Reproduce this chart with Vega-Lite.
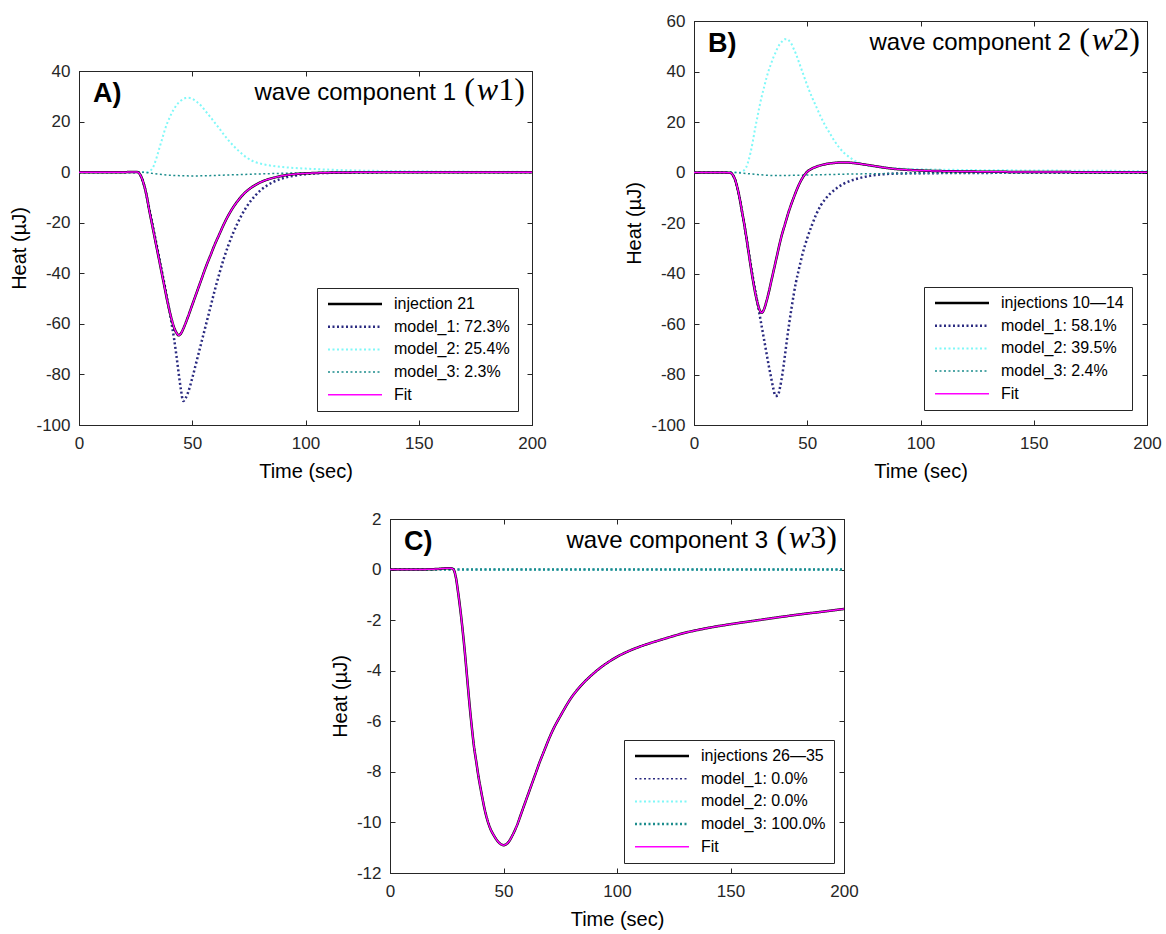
{
  "$schema": "https://vega.github.io/schema/vega-lite/v6.json",
  "padding": {"left": 9, "top": 11, "right": 5, "bottom": 2},
  "background": "white",
  "config": {
    "font": "Liberation Sans",
    "view": {"stroke": "#262626", "strokeWidth": 1},
    "axis": {
      "labelFont": "Liberation Sans", "labelFontSize": 17, "labelColor": "#262626", "labelFlush": false,
      "titleFont": "Liberation Sans", "titleFontSize": 20, "titleFontWeight": "normal", "titleColor": "#000000",
      "domainColor": "#262626", "tickColor": "#262626", "tickSize": -5,
      "grid": false, "labelExpr": "'' + datum.value"
    },
    "axisX": {"titlePadding": 10, "labelPadding": 15},
    "axisY": {"titlePadding": 6, "labelPadding": 14},
    "legend": {
      "orient": "bottom-right", "offset": 14, "fillColor": "white", "strokeColor": "#262626",
      "padding": 8, "labelFont": "Liberation Sans", "labelFontSize": 16, "labelColor": "#000000",
      "symbolType": "M-1,0L9.8,0", "symbolSize": 100, "rowPadding": 6.7, "labelOffset": 53, "labelLimit": 400
    }
  },
  "datasets": {
    "A": [
      {"t":0,"heat":0,"series":"model_1: 72.3%"},{"t":20,"heat":0,"series":"model_1: 72.3%"},{"t":26,"heat":0,"series":"model_1: 72.3%"},{"t":27,"heat":-1,"series":"model_1: 72.3%"},{"t":28,"heat":-3,"series":"model_1: 72.3%"},{"t":29,"heat":-6,"series":"model_1: 72.3%"},{"t":30,"heat":-10,"series":"model_1: 72.3%"},{"t":31,"heat":-14.5,"series":"model_1: 72.3%"},{"t":32,"heat":-18.5,"series":"model_1: 72.3%"},{"t":33,"heat":-23,"series":"model_1: 72.3%"},{"t":34,"heat":-27.5,"series":"model_1: 72.3%"},{"t":35,"heat":-32,"series":"model_1: 72.3%"},{"t":36,"heat":-36.5,"series":"model_1: 72.3%"},{"t":37,"heat":-41,"series":"model_1: 72.3%"},{"t":38,"heat":-45.5,"series":"model_1: 72.3%"},{"t":39,"heat":-50.5,"series":"model_1: 72.3%"},{"t":40,"heat":-55,"series":"model_1: 72.3%"},{"t":41,"heat":-60.5,"series":"model_1: 72.3%"},{"t":42,"heat":-66,"series":"model_1: 72.3%"},{"t":43,"heat":-72.5,"series":"model_1: 72.3%"},{"t":44,"heat":-79.5,"series":"model_1: 72.3%"},{"t":45,"heat":-86,"series":"model_1: 72.3%"},{"t":46,"heat":-90.5,"series":"model_1: 72.3%"},{"t":47,"heat":-89.5,"series":"model_1: 72.3%"},{"t":48,"heat":-87.5,"series":"model_1: 72.3%"},{"t":50,"heat":-81.5,"series":"model_1: 72.3%"},{"t":52,"heat":-74.5,"series":"model_1: 72.3%"},{"t":54,"heat":-67.5,"series":"model_1: 72.3%"},{"t":56,"heat":-60.5,"series":"model_1: 72.3%"},{"t":58,"heat":-53.5,"series":"model_1: 72.3%"},{"t":60,"heat":-46.5,"series":"model_1: 72.3%"},{"t":62,"heat":-40,"series":"model_1: 72.3%"},{"t":64,"heat":-34,"series":"model_1: 72.3%"},{"t":66,"heat":-28.8,"series":"model_1: 72.3%"},{"t":68,"heat":-24.2,"series":"model_1: 72.3%"},{"t":70,"heat":-20.2,"series":"model_1: 72.3%"},{"t":72,"heat":-16.7,"series":"model_1: 72.3%"},{"t":74,"heat":-13.7,"series":"model_1: 72.3%"},{"t":76,"heat":-11.2,"series":"model_1: 72.3%"},{"t":78,"heat":-9.1,"series":"model_1: 72.3%"},{"t":80,"heat":-7.3,"series":"model_1: 72.3%"},{"t":83,"heat":-5.3,"series":"model_1: 72.3%"},{"t":86,"heat":-3.8,"series":"model_1: 72.3%"},{"t":90,"heat":-2.4,"series":"model_1: 72.3%"},{"t":95,"heat":-1.4,"series":"model_1: 72.3%"},{"t":100,"heat":-0.8,"series":"model_1: 72.3%"},{"t":110,"heat":-0.3,"series":"model_1: 72.3%"},{"t":130,"heat":-0.1,"series":"model_1: 72.3%"},{"t":160,"heat":0,"series":"model_1: 72.3%"},{"t":200,"heat":0,"series":"model_1: 72.3%"},
      {"t":0,"heat":0,"series":"model_2: 25.4%"},{"t":30,"heat":0,"series":"model_2: 25.4%"},{"t":31,"heat":0.3,"series":"model_2: 25.4%"},{"t":32,"heat":1,"series":"model_2: 25.4%"},{"t":33,"heat":2.5,"series":"model_2: 25.4%"},{"t":34,"heat":5,"series":"model_2: 25.4%"},{"t":35,"heat":8,"series":"model_2: 25.4%"},{"t":36,"heat":11,"series":"model_2: 25.4%"},{"t":37,"heat":14,"series":"model_2: 25.4%"},{"t":38,"heat":17,"series":"model_2: 25.4%"},{"t":39,"heat":19.5,"series":"model_2: 25.4%"},{"t":40,"heat":21.5,"series":"model_2: 25.4%"},{"t":41,"heat":23.5,"series":"model_2: 25.4%"},{"t":42,"heat":25,"series":"model_2: 25.4%"},{"t":43,"heat":26.5,"series":"model_2: 25.4%"},{"t":44,"heat":27.5,"series":"model_2: 25.4%"},{"t":45,"heat":28.3,"series":"model_2: 25.4%"},{"t":46,"heat":28.9,"series":"model_2: 25.4%"},{"t":47,"heat":29.3,"series":"model_2: 25.4%"},{"t":48,"heat":29.4,"series":"model_2: 25.4%"},{"t":49,"heat":29.3,"series":"model_2: 25.4%"},{"t":50,"heat":29,"series":"model_2: 25.4%"},{"t":51,"heat":28.5,"series":"model_2: 25.4%"},{"t":52,"heat":27.8,"series":"model_2: 25.4%"},{"t":54,"heat":26.2,"series":"model_2: 25.4%"},{"t":56,"heat":24,"series":"model_2: 25.4%"},{"t":58,"heat":21.8,"series":"model_2: 25.4%"},{"t":60,"heat":19.5,"series":"model_2: 25.4%"},{"t":62,"heat":17.2,"series":"model_2: 25.4%"},{"t":64,"heat":14.8,"series":"model_2: 25.4%"},{"t":66,"heat":12.6,"series":"model_2: 25.4%"},{"t":68,"heat":10.6,"series":"model_2: 25.4%"},{"t":70,"heat":8.8,"series":"model_2: 25.4%"},{"t":72,"heat":7.2,"series":"model_2: 25.4%"},{"t":74,"heat":5.8,"series":"model_2: 25.4%"},{"t":76,"heat":4.7,"series":"model_2: 25.4%"},{"t":78,"heat":3.9,"series":"model_2: 25.4%"},{"t":82,"heat":3,"series":"model_2: 25.4%"},{"t":86,"heat":2.4,"series":"model_2: 25.4%"},{"t":90,"heat":2,"series":"model_2: 25.4%"},{"t":100,"heat":1.4,"series":"model_2: 25.4%"},{"t":110,"heat":1,"series":"model_2: 25.4%"},{"t":120,"heat":0.7,"series":"model_2: 25.4%"},{"t":150,"heat":0.35,"series":"model_2: 25.4%"},{"t":200,"heat":0.1,"series":"model_2: 25.4%"},
      {"t":0,"heat":0,"series":"model_3: 2.3%"},{"t":28,"heat":0,"series":"model_3: 2.3%"},{"t":30,"heat":-0.2,"series":"model_3: 2.3%"},{"t":35,"heat":-0.8,"series":"model_3: 2.3%"},{"t":40,"heat":-1.2,"series":"model_3: 2.3%"},{"t":45,"heat":-1.4,"series":"model_3: 2.3%"},{"t":50,"heat":-1.5,"series":"model_3: 2.3%"},{"t":55,"heat":-1.45,"series":"model_3: 2.3%"},{"t":60,"heat":-1.3,"series":"model_3: 2.3%"},{"t":70,"heat":-1,"series":"model_3: 2.3%"},{"t":80,"heat":-0.7,"series":"model_3: 2.3%"},{"t":90,"heat":-0.45,"series":"model_3: 2.3%"},{"t":100,"heat":-0.25,"series":"model_3: 2.3%"},{"t":120,"heat":-0.1,"series":"model_3: 2.3%"},{"t":150,"heat":-0.05,"series":"model_3: 2.3%"},{"t":200,"heat":0,"series":"model_3: 2.3%"},
      {"t":0,"heat":0,"series":"injection 21"},{"t":10,"heat":0,"series":"injection 21"},{"t":20,"heat":0,"series":"injection 21"},{"t":25,"heat":0.1,"series":"injection 21"},{"t":26,"heat":0,"series":"injection 21"},{"t":27,"heat":-1,"series":"injection 21"},{"t":28,"heat":-3,"series":"injection 21"},{"t":29,"heat":-6,"series":"injection 21"},{"t":30,"heat":-10,"series":"injection 21"},{"t":31,"heat":-15,"series":"injection 21"},{"t":32,"heat":-19.5,"series":"injection 21"},{"t":33,"heat":-24,"series":"injection 21"},{"t":34,"heat":-28.5,"series":"injection 21"},{"t":35,"heat":-33,"series":"injection 21"},{"t":36,"heat":-37.5,"series":"injection 21"},{"t":37,"heat":-42,"series":"injection 21"},{"t":38,"heat":-46.5,"series":"injection 21"},{"t":39,"heat":-51,"series":"injection 21"},{"t":40,"heat":-55,"series":"injection 21"},{"t":41,"heat":-58.5,"series":"injection 21"},{"t":42,"heat":-61.5,"series":"injection 21"},{"t":43,"heat":-63.5,"series":"injection 21"},{"t":44,"heat":-64.5,"series":"injection 21"},{"t":45,"heat":-63.8,"series":"injection 21"},{"t":46,"heat":-62,"series":"injection 21"},{"t":48,"heat":-57.5,"series":"injection 21"},{"t":50,"heat":-52.5,"series":"injection 21"},{"t":52,"heat":-47.5,"series":"injection 21"},{"t":54,"heat":-42.5,"series":"injection 21"},{"t":56,"heat":-37.5,"series":"injection 21"},{"t":58,"heat":-33,"series":"injection 21"},{"t":60,"heat":-28.5,"series":"injection 21"},{"t":62,"heat":-24.5,"series":"injection 21"},{"t":64,"heat":-20.5,"series":"injection 21"},{"t":66,"heat":-17,"series":"injection 21"},{"t":68,"heat":-14,"series":"injection 21"},{"t":70,"heat":-11.5,"series":"injection 21"},{"t":72,"heat":-9.3,"series":"injection 21"},{"t":75,"heat":-6.8,"series":"injection 21"},{"t":78,"heat":-5,"series":"injection 21"},{"t":82,"heat":-3.3,"series":"injection 21"},{"t":86,"heat":-2.2,"series":"injection 21"},{"t":90,"heat":-1.4,"series":"injection 21"},{"t":95,"heat":-0.8,"series":"injection 21"},{"t":100,"heat":-0.5,"series":"injection 21"},{"t":110,"heat":-0.2,"series":"injection 21"},{"t":130,"heat":-0.05,"series":"injection 21"},{"t":160,"heat":0,"series":"injection 21"},{"t":200,"heat":0,"series":"injection 21"},
      {"t":0,"heat":0,"series":"Fit"},{"t":10,"heat":0,"series":"Fit"},{"t":20,"heat":0,"series":"Fit"},{"t":25,"heat":0.1,"series":"Fit"},{"t":26,"heat":0,"series":"Fit"},{"t":27,"heat":-1,"series":"Fit"},{"t":28,"heat":-3,"series":"Fit"},{"t":29,"heat":-6,"series":"Fit"},{"t":30,"heat":-10,"series":"Fit"},{"t":31,"heat":-15,"series":"Fit"},{"t":32,"heat":-19.5,"series":"Fit"},{"t":33,"heat":-24,"series":"Fit"},{"t":34,"heat":-28.5,"series":"Fit"},{"t":35,"heat":-33,"series":"Fit"},{"t":36,"heat":-37.5,"series":"Fit"},{"t":37,"heat":-42,"series":"Fit"},{"t":38,"heat":-46.5,"series":"Fit"},{"t":39,"heat":-51,"series":"Fit"},{"t":40,"heat":-55,"series":"Fit"},{"t":41,"heat":-58.5,"series":"Fit"},{"t":42,"heat":-61.5,"series":"Fit"},{"t":43,"heat":-63.5,"series":"Fit"},{"t":44,"heat":-64.5,"series":"Fit"},{"t":45,"heat":-63.8,"series":"Fit"},{"t":46,"heat":-62,"series":"Fit"},{"t":48,"heat":-57.5,"series":"Fit"},{"t":50,"heat":-52.5,"series":"Fit"},{"t":52,"heat":-47.5,"series":"Fit"},{"t":54,"heat":-42.5,"series":"Fit"},{"t":56,"heat":-37.5,"series":"Fit"},{"t":58,"heat":-33,"series":"Fit"},{"t":60,"heat":-28.5,"series":"Fit"},{"t":62,"heat":-24.5,"series":"Fit"},{"t":64,"heat":-20.5,"series":"Fit"},{"t":66,"heat":-17,"series":"Fit"},{"t":68,"heat":-14,"series":"Fit"},{"t":70,"heat":-11.5,"series":"Fit"},{"t":72,"heat":-9.3,"series":"Fit"},{"t":75,"heat":-6.8,"series":"Fit"},{"t":78,"heat":-5,"series":"Fit"},{"t":82,"heat":-3.3,"series":"Fit"},{"t":86,"heat":-2.2,"series":"Fit"},{"t":90,"heat":-1.4,"series":"Fit"},{"t":95,"heat":-0.8,"series":"Fit"},{"t":100,"heat":-0.5,"series":"Fit"},{"t":110,"heat":-0.2,"series":"Fit"},{"t":130,"heat":-0.05,"series":"Fit"},{"t":160,"heat":0,"series":"Fit"},{"t":200,"heat":0,"series":"Fit"}
    ],
    "B": [
      {"t":0,"heat":0,"series":"model_1: 58.1%"},{"t":16,"heat":0,"series":"model_1: 58.1%"},{"t":17,"heat":-0.8,"series":"model_1: 58.1%"},{"t":18,"heat":-2.5,"series":"model_1: 58.1%"},{"t":19,"heat":-5.5,"series":"model_1: 58.1%"},{"t":20,"heat":-9.5,"series":"model_1: 58.1%"},{"t":21,"heat":-14.5,"series":"model_1: 58.1%"},{"t":22,"heat":-19.5,"series":"model_1: 58.1%"},{"t":23,"heat":-25,"series":"model_1: 58.1%"},{"t":24,"heat":-30.5,"series":"model_1: 58.1%"},{"t":25,"heat":-36,"series":"model_1: 58.1%"},{"t":26,"heat":-41.5,"series":"model_1: 58.1%"},{"t":27,"heat":-46.5,"series":"model_1: 58.1%"},{"t":28,"heat":-51.5,"series":"model_1: 58.1%"},{"t":29,"heat":-56.5,"series":"model_1: 58.1%"},{"t":30,"heat":-61.5,"series":"model_1: 58.1%"},{"t":31,"heat":-66.5,"series":"model_1: 58.1%"},{"t":32,"heat":-71.5,"series":"model_1: 58.1%"},{"t":33,"heat":-76.5,"series":"model_1: 58.1%"},{"t":34,"heat":-81,"series":"model_1: 58.1%"},{"t":35,"heat":-85.5,"series":"model_1: 58.1%"},{"t":36,"heat":-88.5,"series":"model_1: 58.1%"},{"t":37,"heat":-88.3,"series":"model_1: 58.1%"},{"t":38,"heat":-85,"series":"model_1: 58.1%"},{"t":39,"heat":-80,"series":"model_1: 58.1%"},{"t":40,"heat":-73.5,"series":"model_1: 58.1%"},{"t":41,"heat":-66.5,"series":"model_1: 58.1%"},{"t":42,"heat":-60,"series":"model_1: 58.1%"},{"t":43,"heat":-54,"series":"model_1: 58.1%"},{"t":44,"heat":-48.5,"series":"model_1: 58.1%"},{"t":45,"heat":-43.5,"series":"model_1: 58.1%"},{"t":46,"heat":-39.5,"series":"model_1: 58.1%"},{"t":48,"heat":-32,"series":"model_1: 58.1%"},{"t":50,"heat":-26,"series":"model_1: 58.1%"},{"t":52,"heat":-21,"series":"model_1: 58.1%"},{"t":54,"heat":-16.5,"series":"model_1: 58.1%"},{"t":56,"heat":-13,"series":"model_1: 58.1%"},{"t":58,"heat":-10.5,"series":"model_1: 58.1%"},{"t":60,"heat":-8.5,"series":"model_1: 58.1%"},{"t":63,"heat":-6.2,"series":"model_1: 58.1%"},{"t":66,"heat":-4.5,"series":"model_1: 58.1%"},{"t":70,"heat":-3,"series":"model_1: 58.1%"},{"t":75,"heat":-1.8,"series":"model_1: 58.1%"},{"t":80,"heat":-1,"series":"model_1: 58.1%"},{"t":85,"heat":-0.6,"series":"model_1: 58.1%"},{"t":90,"heat":-0.4,"series":"model_1: 58.1%"},{"t":100,"heat":-0.3,"series":"model_1: 58.1%"},{"t":120,"heat":-0.2,"series":"model_1: 58.1%"},{"t":150,"heat":-0.1,"series":"model_1: 58.1%"},{"t":200,"heat":-0.1,"series":"model_1: 58.1%"},
      {"t":0,"heat":0,"series":"model_2: 39.5%"},{"t":20,"heat":0,"series":"model_2: 39.5%"},{"t":21,"heat":0.3,"series":"model_2: 39.5%"},{"t":22,"heat":0.8,"series":"model_2: 39.5%"},{"t":23,"heat":2,"series":"model_2: 39.5%"},{"t":24,"heat":4.5,"series":"model_2: 39.5%"},{"t":25,"heat":8,"series":"model_2: 39.5%"},{"t":26,"heat":12.5,"series":"model_2: 39.5%"},{"t":27,"heat":17.5,"series":"model_2: 39.5%"},{"t":28,"heat":22,"series":"model_2: 39.5%"},{"t":29,"heat":26.5,"series":"model_2: 39.5%"},{"t":30,"heat":30.5,"series":"model_2: 39.5%"},{"t":31,"heat":34,"series":"model_2: 39.5%"},{"t":32,"heat":37.5,"series":"model_2: 39.5%"},{"t":33,"heat":40.5,"series":"model_2: 39.5%"},{"t":34,"heat":43,"series":"model_2: 39.5%"},{"t":35,"heat":45.5,"series":"model_2: 39.5%"},{"t":36,"heat":47.5,"series":"model_2: 39.5%"},{"t":37,"heat":49.5,"series":"model_2: 39.5%"},{"t":38,"heat":51,"series":"model_2: 39.5%"},{"t":39,"heat":52,"series":"model_2: 39.5%"},{"t":40,"heat":52.8,"series":"model_2: 39.5%"},{"t":41,"heat":52.8,"series":"model_2: 39.5%"},{"t":42,"heat":52.2,"series":"model_2: 39.5%"},{"t":43,"heat":51,"series":"model_2: 39.5%"},{"t":44,"heat":49,"series":"model_2: 39.5%"},{"t":45,"heat":47,"series":"model_2: 39.5%"},{"t":46,"heat":44.5,"series":"model_2: 39.5%"},{"t":47,"heat":42,"series":"model_2: 39.5%"},{"t":48,"heat":39.5,"series":"model_2: 39.5%"},{"t":50,"heat":34.5,"series":"model_2: 39.5%"},{"t":52,"heat":30,"series":"model_2: 39.5%"},{"t":54,"heat":26,"series":"model_2: 39.5%"},{"t":56,"heat":22,"series":"model_2: 39.5%"},{"t":58,"heat":18.5,"series":"model_2: 39.5%"},{"t":60,"heat":15.5,"series":"model_2: 39.5%"},{"t":62,"heat":12.5,"series":"model_2: 39.5%"},{"t":64,"heat":10,"series":"model_2: 39.5%"},{"t":66,"heat":8,"series":"model_2: 39.5%"},{"t":68,"heat":6.5,"series":"model_2: 39.5%"},{"t":70,"heat":5.2,"series":"model_2: 39.5%"},{"t":73,"heat":3.8,"series":"model_2: 39.5%"},{"t":76,"heat":2.9,"series":"model_2: 39.5%"},{"t":80,"heat":2.3,"series":"model_2: 39.5%"},{"t":85,"heat":1.9,"series":"model_2: 39.5%"},{"t":90,"heat":1.6,"series":"model_2: 39.5%"},{"t":100,"heat":1.3,"series":"model_2: 39.5%"},{"t":120,"heat":1,"series":"model_2: 39.5%"},{"t":150,"heat":0.8,"series":"model_2: 39.5%"},{"t":200,"heat":0.6,"series":"model_2: 39.5%"},
      {"t":0,"heat":0,"series":"model_3: 2.4%"},{"t":18,"heat":0,"series":"model_3: 2.4%"},{"t":22,"heat":-0.3,"series":"model_3: 2.4%"},{"t":28,"heat":-0.8,"series":"model_3: 2.4%"},{"t":35,"heat":-1.2,"series":"model_3: 2.4%"},{"t":45,"heat":-1.1,"series":"model_3: 2.4%"},{"t":55,"heat":-0.9,"series":"model_3: 2.4%"},{"t":70,"heat":-0.6,"series":"model_3: 2.4%"},{"t":90,"heat":-0.4,"series":"model_3: 2.4%"},{"t":120,"heat":-0.3,"series":"model_3: 2.4%"},{"t":200,"heat":-0.2,"series":"model_3: 2.4%"},
      {"t":0,"heat":0,"series":"injections 10—14"},{"t":10,"heat":0,"series":"injections 10—14"},{"t":16,"heat":-0.1,"series":"injections 10—14"},{"t":17,"heat":-0.8,"series":"injections 10—14"},{"t":18,"heat":-2.5,"series":"injections 10—14"},{"t":19,"heat":-5.5,"series":"injections 10—14"},{"t":20,"heat":-9.5,"series":"injections 10—14"},{"t":21,"heat":-14.5,"series":"injections 10—14"},{"t":22,"heat":-19.5,"series":"injections 10—14"},{"t":23,"heat":-25,"series":"injections 10—14"},{"t":24,"heat":-31,"series":"injections 10—14"},{"t":25,"heat":-37,"series":"injections 10—14"},{"t":26,"heat":-42.5,"series":"injections 10—14"},{"t":27,"heat":-47.5,"series":"injections 10—14"},{"t":28,"heat":-51.5,"series":"injections 10—14"},{"t":29,"heat":-54.5,"series":"injections 10—14"},{"t":30,"heat":-55.5,"series":"injections 10—14"},{"t":31,"heat":-54,"series":"injections 10—14"},{"t":32,"heat":-51,"series":"injections 10—14"},{"t":33,"heat":-47.5,"series":"injections 10—14"},{"t":34,"heat":-43.5,"series":"injections 10—14"},{"t":35,"heat":-39.5,"series":"injections 10—14"},{"t":36,"heat":-35.5,"series":"injections 10—14"},{"t":37,"heat":-31.5,"series":"injections 10—14"},{"t":38,"heat":-27.5,"series":"injections 10—14"},{"t":39,"heat":-24,"series":"injections 10—14"},{"t":40,"heat":-21,"series":"injections 10—14"},{"t":42,"heat":-15,"series":"injections 10—14"},{"t":44,"heat":-10,"series":"injections 10—14"},{"t":46,"heat":-5.5,"series":"injections 10—14"},{"t":48,"heat":-2,"series":"injections 10—14"},{"t":50,"heat":0.3,"series":"injections 10—14"},{"t":52,"heat":1.5,"series":"injections 10—14"},{"t":55,"heat":2.6,"series":"injections 10—14"},{"t":58,"heat":3.3,"series":"injections 10—14"},{"t":62,"heat":3.8,"series":"injections 10—14"},{"t":66,"heat":4,"series":"injections 10—14"},{"t":70,"heat":3.8,"series":"injections 10—14"},{"t":75,"heat":3.2,"series":"injections 10—14"},{"t":80,"heat":2.5,"series":"injections 10—14"},{"t":85,"heat":1.8,"series":"injections 10—14"},{"t":90,"heat":1.3,"series":"injections 10—14"},{"t":100,"heat":0.8,"series":"injections 10—14"},{"t":120,"heat":0.4,"series":"injections 10—14"},{"t":150,"heat":0.2,"series":"injections 10—14"},{"t":200,"heat":0.1,"series":"injections 10—14"},
      {"t":0,"heat":0,"series":"Fit"},{"t":10,"heat":0,"series":"Fit"},{"t":16,"heat":-0.1,"series":"Fit"},{"t":17,"heat":-0.8,"series":"Fit"},{"t":18,"heat":-2.5,"series":"Fit"},{"t":19,"heat":-5.5,"series":"Fit"},{"t":20,"heat":-9.5,"series":"Fit"},{"t":21,"heat":-14.5,"series":"Fit"},{"t":22,"heat":-19.5,"series":"Fit"},{"t":23,"heat":-25,"series":"Fit"},{"t":24,"heat":-31,"series":"Fit"},{"t":25,"heat":-37,"series":"Fit"},{"t":26,"heat":-42.5,"series":"Fit"},{"t":27,"heat":-47.5,"series":"Fit"},{"t":28,"heat":-51.5,"series":"Fit"},{"t":29,"heat":-54.5,"series":"Fit"},{"t":30,"heat":-55.5,"series":"Fit"},{"t":31,"heat":-54,"series":"Fit"},{"t":32,"heat":-51,"series":"Fit"},{"t":33,"heat":-47.5,"series":"Fit"},{"t":34,"heat":-43.5,"series":"Fit"},{"t":35,"heat":-39.5,"series":"Fit"},{"t":36,"heat":-35.5,"series":"Fit"},{"t":37,"heat":-31.5,"series":"Fit"},{"t":38,"heat":-27.5,"series":"Fit"},{"t":39,"heat":-24,"series":"Fit"},{"t":40,"heat":-21,"series":"Fit"},{"t":42,"heat":-15,"series":"Fit"},{"t":44,"heat":-10,"series":"Fit"},{"t":46,"heat":-5.5,"series":"Fit"},{"t":48,"heat":-2,"series":"Fit"},{"t":50,"heat":0.3,"series":"Fit"},{"t":52,"heat":1.5,"series":"Fit"},{"t":55,"heat":2.6,"series":"Fit"},{"t":58,"heat":3.3,"series":"Fit"},{"t":62,"heat":3.8,"series":"Fit"},{"t":66,"heat":4,"series":"Fit"},{"t":70,"heat":3.8,"series":"Fit"},{"t":75,"heat":3.2,"series":"Fit"},{"t":80,"heat":2.5,"series":"Fit"},{"t":85,"heat":1.8,"series":"Fit"},{"t":90,"heat":1.3,"series":"Fit"},{"t":100,"heat":0.8,"series":"Fit"},{"t":120,"heat":0.4,"series":"Fit"},{"t":150,"heat":0.2,"series":"Fit"},{"t":200,"heat":0.1,"series":"Fit"}
    ],
    "C": [
      {"t":0,"heat":0,"series":"model_1: 0.0%"},{"t":200,"heat":0,"series":"model_1: 0.0%"},
      {"t":0,"heat":0,"series":"model_2: 0.0%"},{"t":200,"heat":0,"series":"model_2: 0.0%"},
      {"t":0,"heat":0,"series":"model_3: 100.0%"},{"t":200,"heat":0,"series":"model_3: 100.0%"},
      {"t":0,"heat":0,"series":"injections 26—35"},{"t":10,"heat":0,"series":"injections 26—35"},{"t":20,"heat":0.02,"series":"injections 26—35"},{"t":25,"heat":0.05,"series":"injections 26—35"},{"t":27,"heat":0.05,"series":"injections 26—35"},{"t":28,"heat":0,"series":"injections 26—35"},{"t":29,"heat":-0.3,"series":"injections 26—35"},{"t":30,"heat":-0.9,"series":"injections 26—35"},{"t":31,"heat":-1.6,"series":"injections 26—35"},{"t":32,"heat":-2.4,"series":"injections 26—35"},{"t":33,"heat":-3.3,"series":"injections 26—35"},{"t":34,"heat":-4.3,"series":"injections 26—35"},{"t":35,"heat":-5.3,"series":"injections 26—35"},{"t":36,"heat":-6.2,"series":"injections 26—35"},{"t":37,"heat":-7,"series":"injections 26—35"},{"t":38,"heat":-7.6,"series":"injections 26—35"},{"t":39,"heat":-8.2,"series":"injections 26—35"},{"t":40,"heat":-8.7,"series":"injections 26—35"},{"t":42,"heat":-9.6,"series":"injections 26—35"},{"t":44,"heat":-10.2,"series":"injections 26—35"},{"t":46,"heat":-10.55,"series":"injections 26—35"},{"t":48,"heat":-10.8,"series":"injections 26—35"},{"t":50,"heat":-10.9,"series":"injections 26—35"},{"t":52,"heat":-10.8,"series":"injections 26—35"},{"t":54,"heat":-10.5,"series":"injections 26—35"},{"t":56,"heat":-10.1,"series":"injections 26—35"},{"t":58,"heat":-9.6,"series":"injections 26—35"},{"t":60,"heat":-9.1,"series":"injections 26—35"},{"t":62,"heat":-8.6,"series":"injections 26—35"},{"t":64,"heat":-8.1,"series":"injections 26—35"},{"t":66,"heat":-7.6,"series":"injections 26—35"},{"t":68,"heat":-7.15,"series":"injections 26—35"},{"t":70,"heat":-6.7,"series":"injections 26—35"},{"t":72,"heat":-6.3,"series":"injections 26—35"},{"t":75,"heat":-5.8,"series":"injections 26—35"},{"t":78,"heat":-5.33,"series":"injections 26—35"},{"t":80,"heat":-5.05,"series":"injections 26—35"},{"t":84,"heat":-4.6,"series":"injections 26—35"},{"t":88,"heat":-4.24,"series":"injections 26—35"},{"t":92,"heat":-3.93,"series":"injections 26—35"},{"t":96,"heat":-3.67,"series":"injections 26—35"},{"t":100,"heat":-3.45,"series":"injections 26—35"},{"t":105,"heat":-3.23,"series":"injections 26—35"},{"t":110,"heat":-3.05,"series":"injections 26—35"},{"t":120,"heat":-2.76,"series":"injections 26—35"},{"t":130,"heat":-2.5,"series":"injections 26—35"},{"t":140,"heat":-2.31,"series":"injections 26—35"},{"t":150,"heat":-2.16,"series":"injections 26—35"},{"t":160,"heat":-2.03,"series":"injections 26—35"},{"t":170,"heat":-1.9,"series":"injections 26—35"},{"t":180,"heat":-1.78,"series":"injections 26—35"},{"t":190,"heat":-1.67,"series":"injections 26—35"},{"t":200,"heat":-1.56,"series":"injections 26—35"},
      {"t":0,"heat":0,"series":"Fit"},{"t":10,"heat":0,"series":"Fit"},{"t":20,"heat":0.02,"series":"Fit"},{"t":25,"heat":0.05,"series":"Fit"},{"t":27,"heat":0.05,"series":"Fit"},{"t":28,"heat":0,"series":"Fit"},{"t":29,"heat":-0.3,"series":"Fit"},{"t":30,"heat":-0.9,"series":"Fit"},{"t":31,"heat":-1.6,"series":"Fit"},{"t":32,"heat":-2.4,"series":"Fit"},{"t":33,"heat":-3.3,"series":"Fit"},{"t":34,"heat":-4.3,"series":"Fit"},{"t":35,"heat":-5.3,"series":"Fit"},{"t":36,"heat":-6.2,"series":"Fit"},{"t":37,"heat":-7,"series":"Fit"},{"t":38,"heat":-7.6,"series":"Fit"},{"t":39,"heat":-8.2,"series":"Fit"},{"t":40,"heat":-8.7,"series":"Fit"},{"t":42,"heat":-9.6,"series":"Fit"},{"t":44,"heat":-10.2,"series":"Fit"},{"t":46,"heat":-10.55,"series":"Fit"},{"t":48,"heat":-10.8,"series":"Fit"},{"t":50,"heat":-10.9,"series":"Fit"},{"t":52,"heat":-10.8,"series":"Fit"},{"t":54,"heat":-10.5,"series":"Fit"},{"t":56,"heat":-10.1,"series":"Fit"},{"t":58,"heat":-9.6,"series":"Fit"},{"t":60,"heat":-9.1,"series":"Fit"},{"t":62,"heat":-8.6,"series":"Fit"},{"t":64,"heat":-8.1,"series":"Fit"},{"t":66,"heat":-7.6,"series":"Fit"},{"t":68,"heat":-7.15,"series":"Fit"},{"t":70,"heat":-6.7,"series":"Fit"},{"t":72,"heat":-6.3,"series":"Fit"},{"t":75,"heat":-5.8,"series":"Fit"},{"t":78,"heat":-5.33,"series":"Fit"},{"t":80,"heat":-5.05,"series":"Fit"},{"t":84,"heat":-4.6,"series":"Fit"},{"t":88,"heat":-4.24,"series":"Fit"},{"t":92,"heat":-3.93,"series":"Fit"},{"t":96,"heat":-3.67,"series":"Fit"},{"t":100,"heat":-3.45,"series":"Fit"},{"t":105,"heat":-3.23,"series":"Fit"},{"t":110,"heat":-3.05,"series":"Fit"},{"t":120,"heat":-2.76,"series":"Fit"},{"t":130,"heat":-2.5,"series":"Fit"},{"t":140,"heat":-2.31,"series":"Fit"},{"t":150,"heat":-2.16,"series":"Fit"},{"t":160,"heat":-2.03,"series":"Fit"},{"t":170,"heat":-1.9,"series":"Fit"},{"t":180,"heat":-1.78,"series":"Fit"},{"t":190,"heat":-1.67,"series":"Fit"},{"t":200,"heat":-1.56,"series":"Fit"}
    ]
  },
  "spacing": 27,
  "resolve": {"scale": {"color": "independent", "strokeDash": "independent", "strokeWidth": "independent"}, "legend": {"color": "independent", "strokeDash": "independent", "strokeWidth": "independent"}},
  "vconcat": [
    {
      "spacing": 77,
      "resolve": {"scale": {"color": "independent", "strokeDash": "independent", "strokeWidth": "independent"}, "legend": {"color": "independent", "strokeDash": "independent", "strokeWidth": "independent"}},
      "hconcat": [
        {
          "spacing": 0,
          "resolve": {"scale": {"color": "independent", "strokeDash": "independent", "strokeWidth": "independent"}, "legend": {"color": "independent", "strokeDash": "independent", "strokeWidth": "independent"}},
          "vconcat": [
            {"width": 453, "height": 40, "data": {"values": []}, "mark": {"type": "point"}, "view": {"stroke": null}},
            {
              "width": 453, "height": 354,
              "data": {"name": "A"},
              "resolve": {"axis": {"x": "independent", "y": "independent"}},
              "layer": [
                {
                  "mark": {"type": "line", "interpolate": "monotone"},
                  "encoding": {
                    "x": {"field": "t", "type": "quantitative", "scale": {"domain": [0, 200], "nice": false}, "axis": {"orient": "bottom", "values": [0, 50, 100, 150, 200], "title": "Time (sec)"}},
                    "y": {"field": "heat", "type": "quantitative", "scale": {"domain": [-100, 40], "nice": false, "zero": false}, "axis": {"orient": "left", "values": [-100, -80, -60, -40, -20, 0, 20, 40], "title": "Heat (µJ)"}},
                    "color": {"field": "series", "type": "nominal", "title": null, "legend": {"offset": 14}, "scale": {"domain": ["injection 21", "model_1: 72.3%", "model_2: 25.4%", "model_3: 2.3%", "Fit"], "range": ["#000000", "#2a2a80", "#7ff8f8", "#1b8c8c", "#ff00ff"]}},
                    "strokeDash": {"field": "series", "type": "nominal", "title": null, "scale": {"domain": ["injection 21", "model_1: 72.3%", "model_2: 25.4%", "model_3: 2.3%", "Fit"], "range": [[1, 0], [2, 2.5], [2, 2.5], [2, 2.5], [1, 0]]}},
                    "strokeWidth": {"field": "series", "type": "nominal", "title": null, "scale": {"type": "ordinal", "domain": ["injection 21", "model_1: 72.3%", "model_2: 25.4%", "model_3: 2.3%", "Fit"], "range": [2.5, 2.5, 2, 1.5, 1.5]}}
                  }
                },
                {
                  "data": {"values": [{}]},
                  "mark": {"type": "point", "opacity": 0},
                  "encoding": {
                    "x": {"datum": 0, "axis": {"orient": "top", "values": [0, 50, 100, 150, 200], "labels": false, "title": null}},
                    "y": {"datum": 0, "axis": {"orient": "right", "values": [-100, -80, -60, -40, -20, 0, 20, 40], "labels": false, "title": null}}
                  }
                },
                {"data": {"values": [{"label": "A)"}]}, "mark": {"type": "text", "font": "Liberation Sans", "fontSize": 27, "fontWeight": "bold", "align": "left", "baseline": "alphabetic", "dx": 14, "dy": 31}, "encoding": {"x": {"datum": 0, "axis": null}, "y": {"datum": 40, "axis": null}, "text": {"field": "label"}}},
                {"data": {"values": [{"label": "wave component 1"}]}, "mark": {"type": "text", "font": "Liberation Sans", "fontSize": 24, "align": "right", "baseline": "alphabetic", "dx": -76, "dy": 29}, "encoding": {"x": {"datum": 200, "axis": null}, "y": {"datum": 40, "axis": null}, "text": {"field": "label"}}},
                {"data": {"values": [{"label": "("}]}, "mark": {"type": "text", "font": "Liberation Serif", "fontSize": 32, "align": "right", "baseline": "alphabetic", "dx": -57, "dy": 29}, "encoding": {"x": {"datum": 200, "axis": null}, "y": {"datum": 40, "axis": null}, "text": {"field": "label"}}},
                {"data": {"values": [{"label": "w"}]}, "mark": {"type": "text", "font": "Liberation Serif", "fontSize": 32, "fontStyle": "italic", "align": "right", "baseline": "alphabetic", "dx": -34, "dy": 29}, "encoding": {"x": {"datum": 200, "axis": null}, "y": {"datum": 40, "axis": null}, "text": {"field": "label"}}},
                {"data": {"values": [{"label": "1)"}]}, "mark": {"type": "text", "font": "Liberation Serif", "fontSize": 32, "align": "right", "baseline": "alphabetic", "dx": -7, "dy": 29}, "encoding": {"x": {"datum": 200, "axis": null}, "y": {"datum": 40, "axis": null}, "text": {"field": "label"}}}
              ]
            }
          ]
        },
        {
          "width": 453, "height": 404,
          "data": {"name": "B"},
          "resolve": {"axis": {"x": "independent", "y": "independent"}},
          "layer": [
            {
              "mark": {"type": "line", "interpolate": "monotone"},
              "encoding": {
                "x": {"field": "t", "type": "quantitative", "scale": {"domain": [0, 200], "nice": false}, "axis": {"orient": "bottom", "values": [0, 50, 100, 150, 200], "title": "Time (sec)"}},
                "y": {"field": "heat", "type": "quantitative", "scale": {"domain": [-100, 60], "nice": false, "zero": false}, "axis": {"orient": "left", "values": [-100, -80, -60, -40, -20, 0, 20, 40, 60], "title": "Heat (µJ)"}},
                "color": {"field": "series", "type": "nominal", "title": null, "legend": {"offset": 15}, "scale": {"domain": ["injections 10—14", "model_1: 58.1%", "model_2: 39.5%", "model_3: 2.4%", "Fit"], "range": ["#000000", "#2a2a80", "#7ff8f8", "#1b8c8c", "#ff00ff"]}},
                "strokeDash": {"field": "series", "type": "nominal", "title": null, "scale": {"domain": ["injections 10—14", "model_1: 58.1%", "model_2: 39.5%", "model_3: 2.4%", "Fit"], "range": [[1, 0], [2, 2.5], [2, 2.5], [2, 2.5], [1, 0]]}},
                "strokeWidth": {"field": "series", "type": "nominal", "title": null, "scale": {"type": "ordinal", "domain": ["injections 10—14", "model_1: 58.1%", "model_2: 39.5%", "model_3: 2.4%", "Fit"], "range": [2.5, 2.5, 2, 1.5, 1.5]}}
              }
            },
            {
              "data": {"values": [{}]},
              "mark": {"type": "point", "opacity": 0},
              "encoding": {
                "x": {"datum": 0, "axis": {"orient": "top", "values": [0, 50, 100, 150, 200], "labels": false, "title": null}},
                "y": {"datum": 0, "axis": {"orient": "right", "values": [-100, -80, -60, -40, -20, 0, 20, 40, 60], "labels": false, "title": null}}
              }
            },
            {"data": {"values": [{"label": "B)"}]}, "mark": {"type": "text", "font": "Liberation Sans", "fontSize": 27, "fontWeight": "bold", "align": "left", "baseline": "alphabetic", "dx": 14, "dy": 31}, "encoding": {"x": {"datum": 0, "axis": null}, "y": {"datum": 60, "axis": null}, "text": {"field": "label"}}},
            {"data": {"values": [{"label": "wave component 2"}]}, "mark": {"type": "text", "font": "Liberation Sans", "fontSize": 24, "align": "right", "baseline": "alphabetic", "dx": -76, "dy": 29}, "encoding": {"x": {"datum": 200, "axis": null}, "y": {"datum": 60, "axis": null}, "text": {"field": "label"}}},
            {"data": {"values": [{"label": "("}]}, "mark": {"type": "text", "font": "Liberation Serif", "fontSize": 32, "align": "right", "baseline": "alphabetic", "dx": -57, "dy": 29}, "encoding": {"x": {"datum": 200, "axis": null}, "y": {"datum": 60, "axis": null}, "text": {"field": "label"}}},
            {"data": {"values": [{"label": "w"}]}, "mark": {"type": "text", "font": "Liberation Serif", "fontSize": 32, "fontStyle": "italic", "align": "right", "baseline": "alphabetic", "dx": -34, "dy": 29}, "encoding": {"x": {"datum": 200, "axis": null}, "y": {"datum": 60, "axis": null}, "text": {"field": "label"}}},
            {"data": {"values": [{"label": "2)"}]}, "mark": {"type": "text", "font": "Liberation Serif", "fontSize": 32, "align": "right", "baseline": "alphabetic", "dx": -7, "dy": 29}, "encoding": {"x": {"datum": 200, "axis": null}, "y": {"datum": 60, "axis": null}, "text": {"field": "label"}}}
          ]
        }
      ]
    },
    {
      "spacing": 0,
      "resolve": {"scale": {"color": "independent", "strokeDash": "independent", "strokeWidth": "independent"}, "legend": {"color": "independent", "strokeDash": "independent", "strokeWidth": "independent"}},
      "hconcat": [
        {"width": 250, "height": 354, "data": {"values": []}, "mark": {"type": "point"}, "view": {"stroke": null}},
        {
          "width": 454, "height": 354,
          "data": {"name": "C"},
          "resolve": {"axis": {"x": "independent", "y": "independent"}},
          "layer": [
            {
              "mark": {"type": "line", "interpolate": "monotone"},
              "encoding": {
                "x": {"field": "t", "type": "quantitative", "scale": {"domain": [0, 200], "nice": false}, "axis": {"orient": "bottom", "values": [0, 50, 100, 150, 200], "title": "Time (sec)"}},
                "y": {"field": "heat", "type": "quantitative", "scale": {"domain": [-12, 2], "nice": false, "zero": false}, "axis": {"orient": "left", "values": [-12, -10, -8, -6, -4, -2, 0, 2], "title": "Heat (µJ)"}},
                "color": {"field": "series", "type": "nominal", "title": null, "legend": {"offset": 10}, "scale": {"domain": ["injections 26—35", "model_1: 0.0%", "model_2: 0.0%", "model_3: 100.0%", "Fit"], "range": ["#000000", "#2a2a80", "#7ff8f8", "#1b8c8c", "#ff00ff"]}},
                "strokeDash": {"field": "series", "type": "nominal", "title": null, "scale": {"domain": ["injections 26—35", "model_1: 0.0%", "model_2: 0.0%", "model_3: 100.0%", "Fit"], "range": [[1, 0], [2, 2.5], [2, 2.5], [2, 2.5], [1, 0]]}},
                "strokeWidth": {"field": "series", "type": "nominal", "title": null, "scale": {"type": "ordinal", "domain": ["injections 26—35", "model_1: 0.0%", "model_2: 0.0%", "model_3: 100.0%", "Fit"], "range": [2.5, 1.5, 2, 2.5, 1.5]}}
              }
            },
            {
              "data": {"values": [{}]},
              "mark": {"type": "point", "opacity": 0},
              "encoding": {
                "x": {"datum": 0, "axis": {"orient": "top", "values": [0, 50, 100, 150, 200], "labels": false, "title": null}},
                "y": {"datum": 0, "axis": {"orient": "right", "values": [-12, -10, -8, -6, -4, -2, 0, 2], "labels": false, "title": null}}
              }
            },
            {"data": {"values": [{"label": "C)"}]}, "mark": {"type": "text", "font": "Liberation Sans", "fontSize": 27, "fontWeight": "bold", "align": "left", "baseline": "alphabetic", "dx": 14, "dy": 31}, "encoding": {"x": {"datum": 0, "axis": null}, "y": {"datum": 2, "axis": null}, "text": {"field": "label"}}},
            {"data": {"values": [{"label": "wave component 3"}]}, "mark": {"type": "text", "font": "Liberation Sans", "fontSize": 24, "align": "right", "baseline": "alphabetic", "dx": -76, "dy": 29}, "encoding": {"x": {"datum": 200, "axis": null}, "y": {"datum": 2, "axis": null}, "text": {"field": "label"}}},
            {"data": {"values": [{"label": "("}]}, "mark": {"type": "text", "font": "Liberation Serif", "fontSize": 32, "align": "right", "baseline": "alphabetic", "dx": -57, "dy": 29}, "encoding": {"x": {"datum": 200, "axis": null}, "y": {"datum": 2, "axis": null}, "text": {"field": "label"}}},
            {"data": {"values": [{"label": "w"}]}, "mark": {"type": "text", "font": "Liberation Serif", "fontSize": 32, "fontStyle": "italic", "align": "right", "baseline": "alphabetic", "dx": -34, "dy": 29}, "encoding": {"x": {"datum": 200, "axis": null}, "y": {"datum": 2, "axis": null}, "text": {"field": "label"}}},
            {"data": {"values": [{"label": "3)"}]}, "mark": {"type": "text", "font": "Liberation Serif", "fontSize": 32, "align": "right", "baseline": "alphabetic", "dx": -7, "dy": 29}, "encoding": {"x": {"datum": 200, "axis": null}, "y": {"datum": 2, "axis": null}, "text": {"field": "label"}}}
          ]
        }
      ]
    }
  ]
}
